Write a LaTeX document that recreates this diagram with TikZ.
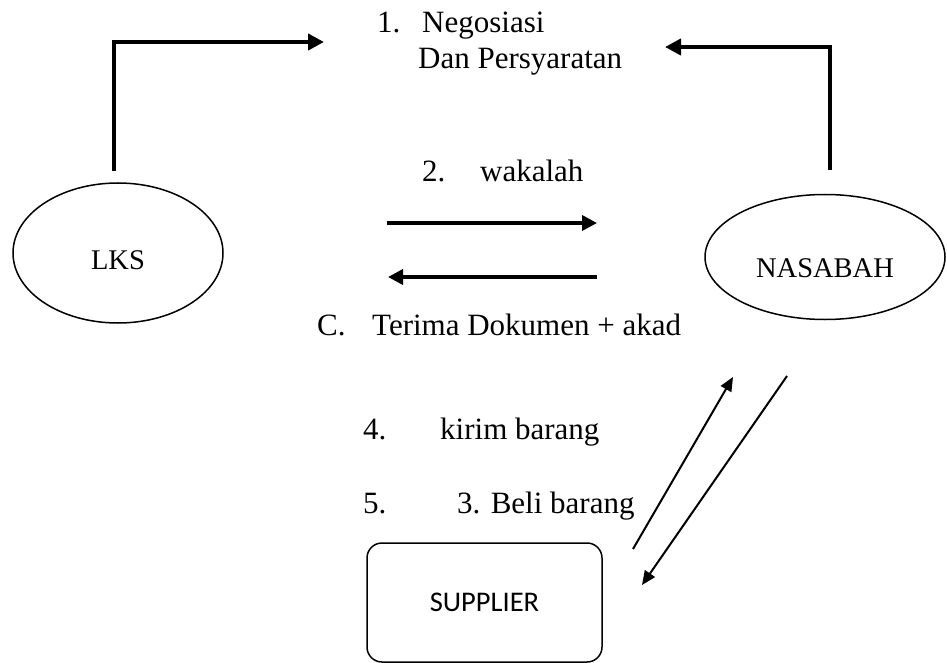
\documentclass[tikz,border=0pt]{standalone}
\usepackage{fontspec}
\setmainfont{Liberation Serif}
\newfontfamily\boxfont{Carlito}
\usetikzlibrary{shapes.geometric,arrows.meta}

\begin{document}
\begin{tikzpicture}[x=1pt,y=-1pt,
        txt/.style={inner sep=0pt,anchor=base west,font=\fontsize{31}{37}\selectfont},
        party/.style={draw,ellipse,line width=1.5pt,inner sep=0pt,text depth=0pt,font=\fontsize{28.5}{34}\selectfont},
        bigflow/.style={line width=4pt,-{Triangle[length=16pt,width=16pt]}},
        midflow/.style={line width=3.5pt,-{Triangle[length=15pt,width=15pt]}},
        thinflow/.style={line width=2pt,-{Triangle[length=14pt,width=12pt]}}]
    \useasboundingbox (0,0) rectangle (947,663);

    % parties
    \node[party,minimum width=210pt,minimum height=140pt,text height=32pt] (lks) at (118,253) {LKS};
    \node[party,minimum width=240pt,minimum height=125pt,text height=40pt] (nasabah) at (825,257) {NASABAH};
    \node[draw,rounded corners=15pt,line width=1.5pt,minimum width=235pt,minimum height=119pt,
        font=\boxfont\fontsize{28.5}{34}\selectfont] (supplier) at (484.5,602.5) {SUPPLIER};

    % labels
    \node[txt] (n1num) at (377,33) {1.};
    \node[txt] (n1a) at (422,33) {Negosiasi};
    \node[txt] (n1b) at (418,69) {Dan Persyaratan};
    \node[txt] (n2num) at (422,182) {2.};
    \node[txt] (n2) at (480,182) {wakalah};
    \node[txt] (nCnum) at (317,335) {C.};
    \node[txt] (nC) at (372,335) {Terima Dokumen + akad};
    \node[txt] (n4num) at (363,439) {4.};
    \node[txt] (n4) at (440,439) {kirim barang};
    \node[txt] (n5num) at (363,513) {5.};
    \node[txt] (n5) at (457,513) {3. Beli barang};

    \coordinate (lkstop) at (114,171);
    \coordinate (negleft) at (324,42);
    \coordinate (nastop) at (830,170);
    \coordinate (negright) at (665,47);
    \coordinate (wakL) at (387,223);
    \coordinate (wakR) at (597,223);
    \coordinate (dokR) at (597,277);
    \coordinate (dokL) at (388,277);
    \coordinate (kirimA) at (633,549);
    \coordinate (kirimB) at (733,377);
    \coordinate (beliA) at (787,376);
    \coordinate (beliB) at (642,585);

    \draw[bigflow] (lkstop) |- (negleft);
    \draw[bigflow] (nastop) |- (negright);
    \draw[midflow] (wakL) -- (wakR);
    \draw[midflow] (dokR) -- (dokL);
    \draw[thinflow] (kirimA) -- (kirimB);
    \draw[thinflow] (beliA) -- (beliB);
\end{tikzpicture}
\end{document}
